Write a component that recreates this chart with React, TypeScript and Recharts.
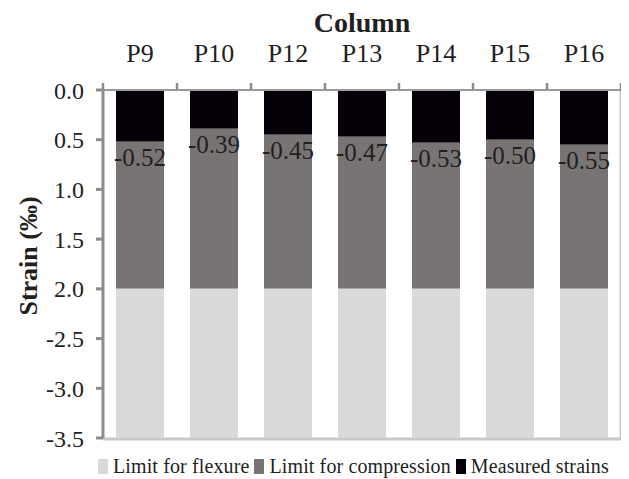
import React from 'react';
import { BarChart, Bar, XAxis, YAxis, Legend, LabelList, CartesianGrid } from 'recharts';

const categories = ['P9', 'P10', 'P12', 'P13', 'P14', 'P15', 'P16'];
const measuredStrains = [0.52, 0.39, 0.45, 0.47, 0.53, 0.5, 0.55];
const compressionLimit = [2.0, 2.0, 2.0, 2.0, 2.0, 2.0, 2.0];
const flexureLimit = [3.5, 3.5, 3.5, 3.5, 3.5, 3.5, 3.5];
const yTicks = [0, 0.5, 1, 1.5, 2, 2.5, 3, 3.5];
const yTickLabels = ['0.0', '0.5', '1.0', '1.5', '2.0', '-2.5', '-3.0', '-3.5'];
const seriesNames = ['Limit for flexure', 'Limit for compression', 'Measured strains'];
const seriesColors = ['#d9d9d9', '#797474', '#050008'];

const data = categories.map((name, i) => ({
  name,
  measured: measuredStrains[i],
  compression: compressionLimit[i] - measuredStrains[i],
  flexure: flexureLimit[i] - compressionLimit[i],
  label: -measuredStrains[i],
}));

const FONT = '"Liberation Serif", "DejaVu Serif", serif';
const TEXT = '#231f20';
const AXIS = '#8c8c8c';
const BORDER = '#c8c8c8';

const BarValueLabel = (props: any) => {
  const { x, y, width, height, value } = props;
  const bottom = Math.max(Number(y), Number(y) + Number(height));
  return (
    <text
      x={Number(x) + Number(width) / 2}
      y={bottom + 24}
      textAnchor="middle"
      fontFamily={FONT}
      fontSize={25}
      fill={TEXT}
    >
      {Number(value).toFixed(2)}
    </text>
  );
};

const TopTick = (props: any) => {
  const { x, y, payload, index } = props;
  const off = payload && payload.offset ? payload.offset : 37;
  const axisY = y + 28;
  return (
    <g>
      <text x={x} y={y} textAnchor="middle" fontFamily={FONT} fontSize={26} fill={TEXT}>
        {payload.value}
      </text>
      <line x1={x + off} x2={x + off} y1={axisY} y2={axisY - 7} stroke={AXIS} strokeWidth={2.5} />
      {index === 0 && (
        <line x1={x - off} x2={x - off} y1={axisY} y2={axisY - 7} stroke={AXIS} strokeWidth={2.5} />
      )}
    </g>
  );
};

const YTitleLabel = (props: any) => {
  const vb = props.viewBox || {};
  const cx = vb.x + 20;
  const cy = vb.y + vb.height / 2 - 8;
  return (
    <text
      x={cx}
      y={cy}
      transform={`rotate(-90, ${cx}, ${cy})`}
      textAnchor="middle"
      dominantBaseline="central"
      fontFamily={FONT}
      fontSize={26}
      fontWeight="bold"
      fill={TEXT}
    >
      Strain (‰)
    </text>
  );
};

const LegendContent = () => (
  <div
    style={{
      display: 'flex',
      alignItems: 'center',
      marginLeft: 90,
      paddingTop: 17,
      fontFamily: FONT,
      fontSize: 20,
      letterSpacing: 0.12,
      color: TEXT,
      whiteSpace: 'nowrap',
    }}
  >
    {seriesNames.map((n, i) => (
      <div key={n} style={{ display: 'flex', alignItems: 'center', marginRight: 5 }}>
        <span
          style={{
            display: 'inline-block',
            width: 10,
            height: 15,
            background: seriesColors[i],
            marginRight: 5,
          }}
        />
        <span>{n}</span>
      </div>
    ))}
  </div>
);

export default function App() {
  return (
    <div style={{ position: 'relative', width: 621, height: 471 }}>
      <div
        style={{
          position: 'absolute',
          left: 95,
          width: 518,
          top: 0,
          textAlign: 'center',
          fontFamily: FONT,
          fontSize: 28,
          fontWeight: 'bold',
          color: TEXT,
          lineHeight: '30px',
        }}
      >
        Column
      </div>
      <BarChart
        width={621}
        height={471}
        data={data}
        margin={{ top: 30, right: 8, bottom: 0, left: 0 }}
        barSize={48}
      >
        <CartesianGrid
          horizontal={false}
          vertical
          stroke={BORDER}
          strokeWidth={3}
          verticalCoordinatesGenerator={({ offset }: any) => [offset.left + offset.width]}
        />
        <CartesianGrid
          vertical={false}
          horizontal
          stroke={BORDER}
          strokeWidth={3}
          horizontalCoordinatesGenerator={({ offset }: any) => [offset.top + offset.height + 1]}
        />
        <XAxis
          xAxisId="main"
          dataKey="name"
          orientation="top"
          height={52}
          tickLine={false}
          tickSize={0}
          tickMargin={28}
          axisLine={{ stroke: '#9a9a9a', strokeWidth: 2 }}
          tick={<TopTick />}
          interval={0}
        />
        <YAxis
          yAxisId={0}
          type="number"
          domain={[0, 3.5]}
          ticks={yTicks}
          reversed
          width={95}
          interval={0}
          tickFormatter={(v: number) => yTickLabels[yTicks.indexOf(v)] ?? String(v)}
          tick={{ fontFamily: FONT, fontSize: 24, fill: TEXT }}
          tickSize={7}
          tickMargin={12}
          tickLine={{ stroke: AXIS, strokeWidth: 3 }}
          axisLine={{ stroke: AXIS, strokeWidth: 3 }}
          label={<YTitleLabel />}
        />
        <Legend verticalAlign="bottom" height={41} content={<LegendContent />} />
        <Bar
          dataKey="measured"
          stackId="a"
          xAxisId="main"
          yAxisId={0}
          fill={seriesColors[2]}
          name={seriesNames[2]}
          isAnimationActive={false}
        >
          <LabelList dataKey="label" content={<BarValueLabel />} />
        </Bar>
        <Bar
          dataKey="compression"
          stackId="a"
          xAxisId="main"
          yAxisId={0}
          fill={seriesColors[1]}
          name={seriesNames[1]}
          isAnimationActive={false}
        />
        <Bar
          dataKey="flexure"
          stackId="a"
          xAxisId="main"
          yAxisId={0}
          fill={seriesColors[0]}
          name={seriesNames[0]}
          isAnimationActive={false}
        />
      </BarChart>
    </div>
  );
}
